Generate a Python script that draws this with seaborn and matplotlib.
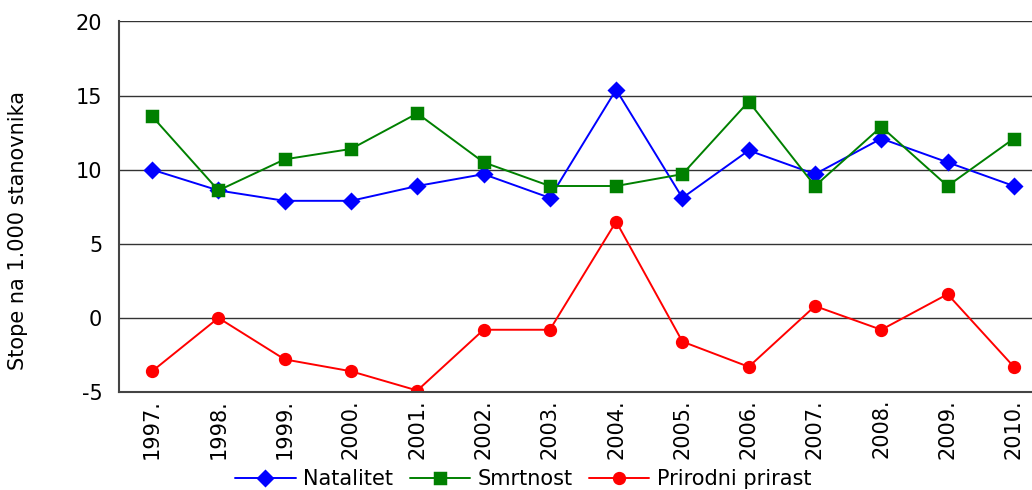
import matplotlib
matplotlib.use("Agg")
import matplotlib.pyplot as plt
import seaborn as sns
import pandas as pd

godine = ["1997.", "1998.", "1999.", "2000.", "2001.", "2002.", "2003.",
          "2004.", "2005.", "2006.", "2007.", "2008.", "2009.", "2010."]
natalitet = [10.0, 8.6, 7.9, 7.9, 8.9, 9.7, 8.1, 15.4, 8.1, 11.3, 9.7, 12.1, 10.5, 8.9]
smrtnost = [13.6, 8.6, 10.7, 11.4, 13.8, 10.5, 8.9, 8.9, 9.7, 14.6, 8.9, 12.9, 8.9, 12.1]
prirast = [-3.6, 0.0, -2.8, -3.6, -4.9, -0.8, -0.8, 6.5, -1.6, -3.3, 0.8, -0.8, 1.6, -3.3]

serije = ["Natalitet", "Smrtnost", "Prirodni prirast"]
boje = ["#0000ff", "#008000", "#ff0000"]

df = pd.DataFrame({
    "godina": godine * 3,
    "stopa": natalitet + smrtnost + prirast,
    "serija": [s for s in serije for _ in godine],
})

sns.set_style("white")
plt.rcParams["font.family"] = ["DejaVu Sans"]
plt.rcParams["axes.unicode_minus"] = False
plt.rcParams["text.color"] = "black"
plt.rcParams["axes.labelcolor"] = "black"
plt.rcParams["xtick.color"] = "black"
plt.rcParams["ytick.color"] = "black"

fig = plt.figure(figsize=(10.32, 4.9), dpi=100)
ax = fig.add_axes([119 / 1032, 98 / 490, 928 / 1032, 370.5 / 490])

sns.pointplot(data=df, x="godina", y="stopa", hue="serija", order=godine,
              hue_order=serije, palette=boje, markers=["D", "s", "o"],
              linestyles="-", errorbar=None, markersize=8.5, linewidth=1.4,
              ax=ax)

# horizontalne linije mreze
for v in [20, 15, 10, 5, 0]:
    ax.axhline(v, color="#333333", lw=1.0, zorder=0)

ax.set_ylim(-5, 20)
ax.set_yticks([-5, 0, 5, 10, 15, 20])
ax.set_xlim(-0.5, 13.5)
ax.set_xticks(range(len(godine)))
ax.set_xticklabels(godine, rotation=90, fontsize=15)
ax.set_xticks([i + 0.5 for i in range(-1, len(godine))], minor=True)
ax.tick_params(axis="x", which="major", length=0, pad=5, labelcolor="black")
ax.tick_params(axis="x", which="minor", length=6, width=1, color="#444444", direction="out")
ax.tick_params(axis="y", length=6, width=1, color="#444444", direction="out",
               labelsize=15, pad=6, labelcolor="black")

ax.set_xlabel("")
ax.set_ylabel("Stope na 1.000 stanovnika", fontsize=15, color="black")
ax.yaxis.set_label_coords(-0.098, 0.437)

for s in ["top", "right"]:
    ax.spines[s].set_visible(False)
for s in ["left", "bottom"]:
    ax.spines[s].set_color("#444444")
    ax.spines[s].set_linewidth(1.5)

handles, labels = ax.get_legend_handles_labels()
ax.get_legend().remove()
leg = fig.legend(handles, labels, loc="lower center", bbox_to_anchor=(0.507, -0.037),
                 ncol=3, frameon=False, fontsize=15, handlelength=2.9,
                 columnspacing=0.8, handletextpad=0.35)
for t in leg.get_texts():
    t.set_color("black")

fig.savefig("out.png", dpi=100)
plt.close()
